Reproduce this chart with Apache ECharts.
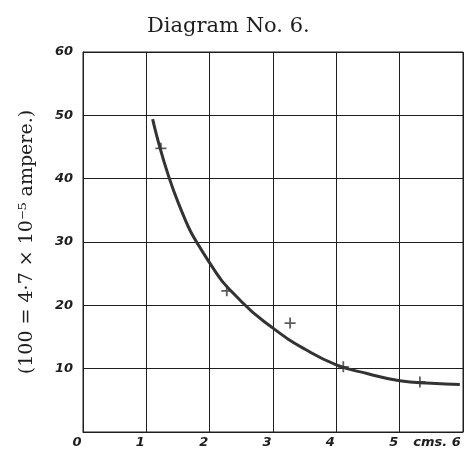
<!DOCTYPE html>
<html>
<head>
<meta charset="utf-8">
<script src="https://cdn.jsdelivr.net/npm/echarts@6/dist/echarts.min.js"></script>
<style>
  html, body { margin: 0; padding: 0; background: #fff; }
  #chart { width: 469px; height: 449px; }
</style>
</head>
<body>
<div id="chart"></div>
<script>
// measured points (the little crosses)
let pointX = [1.23, 2.27, 3.27, 4.11, 5.32]
let pointY = [44.8, 22.3, 17.2, 10.3, 7.9]

// the drawn curve, read along its length
let curveX = [1.10, 1.5, 2.0, 2.5, 3.0, 3.5, 4.0, 4.5, 5.0, 5.5, 5.95]
let curveY = [49.4, 36.3, 26.7, 20.6, 16.4, 13.1, 10.6, 9.2, 8.1, 7.7, 7.5]

let xTicks = ['0', '1', '2', '3', '4', '5', 'cms. 6']
let yTicks = ['0', '10', '20', '30', '40', '50', '60']

let ink = '#1e1e1e'
let plus = 'path://M4.2,0 L5.8,0 L5.8,4.2 L10,4.2 L10,5.8 L5.8,5.8 L5.8,10 L4.2,10 L4.2,5.8 L0,5.8 L0,4.2 L4.2,4.2 Z'

var chart = echarts.init(document.getElementById('chart'))

let labelFont = {
  fontFamily: 'DejaVu Sans',
  fontStyle: 'italic',
  fontWeight: 'bold',
  fontSize: 13,
  color: ink
}

let option = {
  animation: false,
  backgroundColor: '#fff',
  title: {
    text: 'Diagram No. 6.',
    left: 142,
    top: 11,
    textStyle: {
      fontFamily: 'DejaVu Serif',
      fontWeight: 'normal',
      fontSize: 21,
      color: ink
    }
  },
  grid: {
    left: 83,
    right: 6,
    top: 52,
    bottom: 17,
    outerBoundsMode: 'none',
    containLabel: false,
    show: true,
    borderColor: ink,
    borderWidth: 1
  },
  xAxis: {
    type: 'value',
    min: 0,
    max: 6,
    interval: 1,
    axisLine: { show: true, lineStyle: { color: ink, width: 1 } },
    axisTick: { show: false },
    splitLine: { show: true, lineStyle: { color: ink, width: 1 } },
    axisLabel: {
      margin: 4,
      ...labelFont,
      formatter: (v) => {
        let t = xTicks[Math.round(v)]
        if (v === 6) return '{n|' + t + '}{p|}'
        return '{n|' + t + '}{q|}'
      },
      rich: {
        n: { ...labelFont },
        q: { width: 12 },
        p: { width: 52 }
      }
    }
  },
  yAxis: {
    type: 'value',
    min: 0,
    max: 60,
    interval: 10,
    name: '(100 = 4·7 × 10⁻⁵ ampere.)',
    nameLocation: 'middle',
    nameRotate: 90,
    nameGap: 46,
    nameTextStyle: {
      fontFamily: 'DejaVu Serif',
      fontSize: 19,
      color: ink
    },
    axisLine: { show: true, lineStyle: { color: ink, width: 1 } },
    axisTick: { show: false },
    splitLine: { show: true, lineStyle: { color: ink, width: 1 } },
    axisLabel: {
      margin: 10,
      ...labelFont,
      formatter: (v) => (v === 0 ? '' : yTicks[v / 10])
    }
  },
  series: [
    {
      type: 'line',
      smooth: 0.5,
      showSymbol: false,
      data: curveX.map((x, i) => [x, curveY[i]]),
      lineStyle: { color: '#333', width: 3 }
    },
    {
      type: 'scatter',
      symbol: plus,
      symbolSize: 11,
      itemStyle: { color: '#333' },
      data: pointX.map((x, i) => [x, pointY[i]])
    }
  ]
}
chart.setOption(option)
</script>
</body>
</html>
